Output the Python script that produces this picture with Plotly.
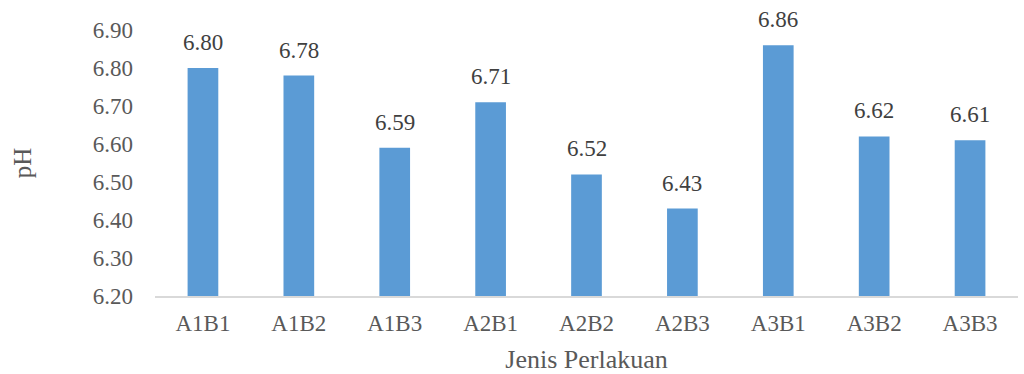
import plotly.graph_objects as go

categories = ["A1B1", "A1B2", "A1B3", "A2B1", "A2B2", "A2B3", "A3B1", "A3B2", "A3B3"]
ph_values = [6.80, 6.78, 6.59, 6.71, 6.52, 6.43, 6.86, 6.62, 6.61]
y_ticks = [6.20, 6.30, 6.40, 6.50, 6.60, 6.70, 6.80, 6.90]

FONT = "Liberation Serif"
TEXT = "#595959"
BAR = "#5B9BD5"
SIZE = 23

fig = go.Figure(
    go.Bar(
        x=categories,
        y=ph_values,
        marker=dict(color=BAR, line=dict(width=0)),
        width=0.32,
        cliponaxis=True,
    )
)

for c, v in zip(categories, ph_values):
    fig.add_annotation(
        x=c, y=v, text=f"{v:.2f}", showarrow=False,
        yanchor="bottom", yshift=11,
        font=dict(family=FONT, size=SIZE, color="#404040"),
    )

fig.update_layout(
    width=1024, height=374,
    margin=dict(l=155, r=6, t=30, b=78),
    paper_bgcolor="white", plot_bgcolor="white",
    showlegend=False,
    font=dict(family=FONT, size=SIZE, color=TEXT),
)
fig.update_xaxes(
    automargin=False,
    showline=True, linecolor="#D9D9D9", linewidth=1.5,
    ticks="", showgrid=False, ticklabelstandoff=6,
    title=dict(text="Jenis Perlakuan", standoff=18, font=dict(family=FONT, size=26, color=TEXT)),
    tickfont=dict(family=FONT, size=SIZE, color=TEXT),
)
fig.update_yaxes(
    automargin=False,
    range=[6.20, 6.90], tickvals=y_ticks, ticktext=[f"{t:.2f}" for t in y_ticks],
    showline=False, showgrid=False, zeroline=False, ticks="",
    ticklabelstandoff=21,
    title=dict(text="pH", standoff=54, font=dict(family=FONT, size=25, color=TEXT)),
    tickfont=dict(family=FONT, size=SIZE, color=TEXT),
)

fig.write_html("out.html")
